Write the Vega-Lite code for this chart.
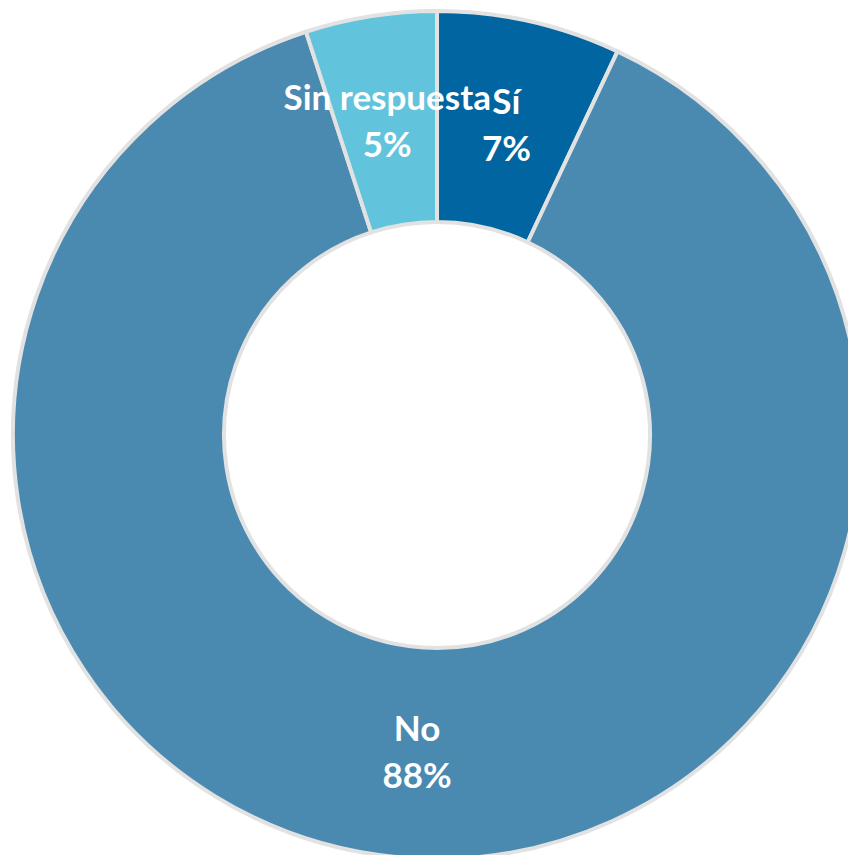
{
  "$schema": "https://vega.github.io/schema/vega-lite/v6.json",
  "width": 822,
  "height": 840,
  "autosize": {"type": "none"},
  "padding": {"left": 26, "top": 15, "right": 0, "bottom": 0},
  "background": "white",
  "data": {
    "values": [
      {"category": "Sí", "percent": 7, "order": 1},
      {"category": "No", "percent": 88, "order": 2},
      {"category": "Sin respuesta", "percent": 5, "order": 3}
    ]
  },
  "transform": [
    {"calculate": "datum.category + '\\n' + datum.percent + '%'", "as": "label"}
  ],
  "encoding": {
    "theta": {"field": "percent", "type": "quantitative", "stack": true},
    "order": {"field": "order", "type": "quantitative"}
  },
  "layer": [
    {
      "mark": {"type": "arc", "outerRadius": 424, "innerRadius": 213, "stroke": "#e2e2e2", "strokeWidth": 4},
      "encoding": {
        "color": {
          "field": "category",
          "type": "nominal",
          "scale": {"domain": ["Sí", "No", "Sin respuesta"], "range": ["#0065a0", "#4a89b0", "#62c3dc"]},
          "legend": null
        }
      }
    },
    {
      "mark": {"type": "text", "radius": 318, "dy": -22, "font": "Lato", "fontWeight": "bold", "fontSize": 35, "fill": "white", "lineBreak": "\n", "lineHeight": 47, "align": "center", "baseline": "middle"},
      "encoding": {
        "text": {"field": "label", "type": "nominal"}
      }
    }
  ]
}
